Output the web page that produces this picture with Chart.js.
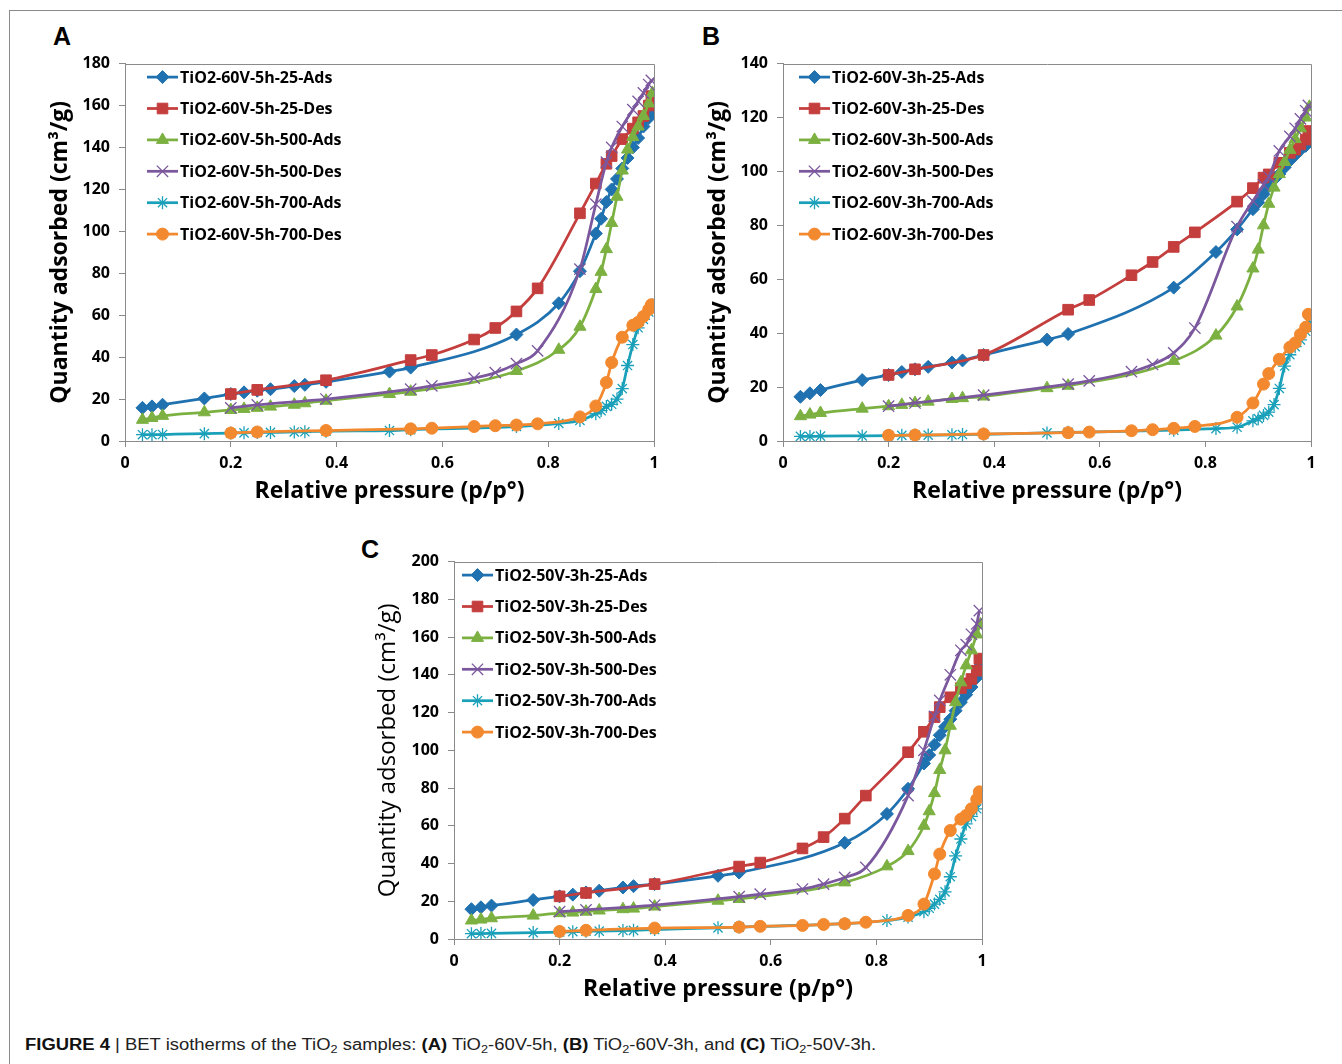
<!DOCTYPE html>
<html>
<head>
<meta charset="utf-8">
<script src="https://cdn.jsdelivr.net/npm/chart.js@4.4.1/dist/chart.umd.min.js"></script>
<style>
  body { margin: 0; width: 1342px; height: 1064px; background: #fff; position: relative; overflow: hidden; }
  .frame { position: absolute; left: 9px; top: 10px; width: 1340px; height: 1060px; border-left: 1px solid #8a8a8a; border-top: 1px solid #8a8a8a; }
  canvas { position: absolute; }
  .letter { position: absolute; font: bold 25px 'Liberation Sans', Arial, sans-serif; color: #000; line-height: 1; }
  #caption { position: absolute; left: 25px; top: 1036px; white-space: nowrap; font: 16px 'Liberation Sans', Arial, sans-serif; color: #222; transform-origin: left top; }
  #caption b { font-weight: bold; color: #111; }
  #caption sub { font-size: 11px; vertical-align: -3px; line-height: 0; }
</style>
</head>
<body>
<div class="frame"></div>
<div class="letter" style="left:53px;top:24px">A</div>
<div class="letter" style="left:702px;top:24px">B</div>
<div class="letter" style="left:361px;top:537px">C</div>
<canvas id="chartA" width="640" height="470" style="left:40px;top:45px"></canvas>
<canvas id="chartB" width="640" height="470" style="left:698px;top:45px"></canvas>
<canvas id="chartC" width="640" height="470" style="left:369px;top:543px"></canvas>
<div id="caption"><b>FIGURE 4</b> | BET isotherms of the TiO<sub>2</sub> samples: <b>(A)</b> TiO<sub>2</sub>-60V-5h, <b>(B)</b> TiO<sub>2</sub>-60V-3h, and <b>(C)</b> TiO<sub>2</sub>-50V-3h.</div>

<script>
// relative pressure points (adsorption and desorption branches)
const pAds = [0.033, 0.051, 0.071, 0.15, 0.2, 0.225, 0.25, 0.275, 0.32, 0.34, 0.38, 0.5, 0.54, 0.74, 0.82, 0.86, 0.89, 0.90, 0.91, 0.92, 0.93, 0.94, 0.95, 0.96, 0.97, 0.98, 0.99, 0.997];
const pDes = [0.2, 0.25, 0.38, 0.54, 0.58, 0.66, 0.70, 0.74, 0.78, 0.86, 0.89, 0.91, 0.92, 0.94, 0.96, 0.97, 0.98, 0.99, 0.995];

const seriesSuffix = ['25-Ads', '25-Des', '500-Ads', '500-Des', '700-Ads', '700-Des'];

// Panel A : TiO2-60V-5h
const a25Ads = [15.8, 16.5, 17.3, 20.3, 22.4, 23.2, 24, 24.7, 26.2, 26.8, 28.2, 33.1, 35, 50.8, 65.7, 81, 99, 106, 114, 120, 125, 130, 135, 140, 144.5, 150, 154, 157];
const a25Des = [22.4, 24.4, 29, 38.6, 41, 48.4, 53.9, 61.8, 72.8, 108.6, 122.8, 132.2, 135.9, 144, 149, 152, 155, 160, 164.5];
const a500Ads = [10.1, 11, 12, 13.7, 14.8, 15.3, 15.8, 16.4, 17.3, 18, 19.2, 22.4, 23.5, 33.4, 43.5, 54.5, 72.5, 80.7, 91.5, 104, 116.5, 129, 139, 145, 150, 155, 161, 166];
const a500Des = [15.8, 17.2, 20, 24.7, 26.3, 30, 32.6, 36.9, 43, 82, 113, 133, 140, 150, 158, 162, 166, 170, 172];
const a700Ads = [3.0, 3.0, 3.1, 3.5, 3.8, 3.9, 4.1, 4.1, 4.3, 4.4, 4.7, 5.0, 5.4, 6.9, 8.4, 9.8, 13, 14.5, 16.5, 17.5, 20, 25, 36, 46, 54, 58, 61.5, 65];
const a700Des = [3.8, 4.3, 5, 5.8, 6.1, 6.9, 7.3, 7.6, 8.2, 11.5, 16.7, 27.9, 37.4, 49.5, 55.2, 56.6, 59.4, 62.7, 65];

// Panel B : TiO2-60V-3h
const b25Ads = [16.4, 17.7, 18.9, 22.6, 24.5, 25.6, 26.6, 27.5, 29.1, 29.9, 31.9, 37.6, 39.7, 56.9, 70.1, 78.5, 86, 88.5, 91.5, 94.5, 97, 99, 101.5, 104, 106, 108, 109.5, 111];
const b25Des = [24.5, 26.6, 31.9, 48.7, 52.3, 61.5, 66.4, 72, 77.4, 88.8, 93.8, 97.7, 98.9, 103.2, 106.9, 108.1, 110, 111.8, 115];
const b500Ads = [9.2, 9.8, 10.4, 12, 12.9, 13.4, 14.1, 14.6, 15.6, 15.9, 16.5, 19.6, 20.5, 29.7, 39.1, 49.9, 64, 71, 80, 88, 94, 99, 103.5, 108, 112, 116, 120, 124];
const b500Des = [12.9, 14.1, 17, 21.1, 22.3, 25.7, 28.4, 32.7, 41.9, 79.5, 89, 95, 98, 107.6, 113, 116, 119.5, 122.5, 124.5];
const b700Ads = [1.7, 1.7, 1.8, 1.9, 2.0, 2.1, 2.2, 2.2, 2.3, 2.4, 2.5, 3.0, 3.2, 4.0, 4.6, 5.1, 7.5, 8.3, 9.5, 10.7, 13.5, 19.5, 27.8, 32, 35, 37.5, 40.7, 44];
const b700Des = [2.1, 2.2, 2.6, 3.1, 3.3, 3.8, 4.2, 4.7, 5.4, 8.8, 14.1, 21.1, 25, 30.3, 34.8, 36.4, 39.5, 42.2, 47];

// Panel C : TiO2-50V-3h
const c25Ads = [15.8, 16.8, 17.7, 20.7, 22.6, 23.5, 24.7, 25.6, 27.3, 28, 29.1, 33.5, 35.2, 51, 66.3, 79.6, 93, 97.5, 103, 108, 112.5, 116.5, 121, 125.5, 129.5, 133.5, 138.5, 145];
const c25Des = [22.6, 24.4, 29.1, 38.4, 40.5, 48, 54, 63.8, 76, 99, 109.8, 117.6, 122.9, 128.1, 133, 135.5, 137.8, 142.2, 148.6];
const c500Ads = [9.8, 10.3, 11, 12.4, 13.7, 14, 14.5, 15.1, 15.8, 16.1, 17.2, 20.3, 21.2, 30, 38.5, 46.6, 60, 67.7, 77.3, 89.6, 100, 113, 125.5, 136, 145, 153, 161.4, 166.7];
const c500Des = [14.5, 15.4, 18, 22.4, 23.8, 26.5, 29.1, 32.6, 37.9, 76, 100, 118, 126.4, 140, 153, 156, 161.5, 167, 174];
const c700Ads = [2.8, 2.9, 3.0, 3.4, 3.7, 3.9, 4.1, 4.2, 4.5, 4.6, 5.0, 5.9, 6.3, 8.1, 9.8, 11.6, 14.5, 16.3, 18.5, 21, 25, 33, 44, 53, 61, 65, 69, 76];
const c700Des = [4, 4.6, 5.8, 6.3, 6.7, 7.2, 7.7, 8.1, 8.9, 12.5, 18.5, 34.5, 45, 57.5, 63.5, 65.5, 69, 74, 78];

const colors = ['#1f71b0', '#c43e3d', '#7cb142', '#7b589e', '#1aa0b9', '#f3892f'];
const markers = ['rectRot', 'rect', 'triangle', 'crossRot', 'star', 'circle'];
const markerSize = [6.5, 7.5, 7, 8, 6.5, 6];

const axisGray = '#8a8a8a';
const fontFamily = '"Open Sans", "Noto Sans", sans-serif';

// top + right border of the plot box
const boxPlugin = {
    id: 'plotBox',
    afterDraw(chart) {
        const { ctx, chartArea } = chart;
        ctx.save();
        ctx.strokeStyle = axisGray;
        ctx.lineWidth = 1;
        ctx.beginPath();
        ctx.moveTo(Math.round(chartArea.left) + 0.5, Math.round(chartArea.top) + 0.5);
        ctx.lineTo(Math.round(chartArea.right) + 0.5, Math.round(chartArea.top) + 0.5);
        ctx.lineTo(Math.round(chartArea.right) + 0.5, Math.round(chartArea.bottom) + 0.5);
        ctx.stroke();
        ctx.restore();
    }
};

// Excel-style legend: line with marker, then label
const legendPlugin = {
    id: 'isoLegend',
    afterDraw(chart, args, opts) {
        const { ctx, chartArea } = chart;
        ctx.save();
        chart.data.datasets.forEach((ds, i) => {
            const y = chartArea.top + 13.5 + i * 31.4;
            const x0 = chartArea.left + opts.offset;
            ctx.strokeStyle = ds.borderColor;
            ctx.fillStyle = ds.backgroundColor;
            ctx.lineWidth = 2.75;
            ctx.beginPath();
            ctx.moveTo(x0, y);
            ctx.lineTo(x0 + 31, y);
            ctx.stroke();
            ctx.lineWidth = ds.pointBorderWidth;
            Chart.helpers.drawPoint(ctx, {
                pointStyle: ds.pointStyle,
                radius: ds.pointRadius,
                borderWidth: ds.pointBorderWidth,
                rotation: 0
            }, x0 + 15.5, y);
            ctx.fillStyle = '#000';
            ctx.font = 'bold 16px ' + fontFamily;
            ctx.textBaseline = 'middle';
            ctx.fillText(ds.label, x0 + 33, y + 1);
        });
        ctx.restore();
    }
};

function makeDatasets(prefix, values) {
    return values.map((vals, i) => {
        const xs = i % 2 === 0 ? pAds : pDes;
        const thin = markers[i] === 'crossRot' || markers[i] === 'star';
        return {
            label: prefix + seriesSuffix[i],
            data: xs.map((x, k) => ({ x: x, y: vals[k] })),
            borderColor: colors[i],
            backgroundColor: colors[i],
            borderWidth: 2.75,
            pointStyle: markers[i],
            pointRadius: markerSize[i],
            pointBorderWidth: thin ? 1.3 : 1,
            pointBackgroundColor: colors[i],
            pointBorderColor: colors[i],
            cubicInterpolationMode: 'monotone',
            fill: false,
            order: 5 - i
        };
    });
}

function makeChart(canvasId, prefix, values, yMax, padRight, legendOffset, yTitle) {
    const tickFont = { family: fontFamily, size: 16, weight: 'bold' };
    return new Chart(document.getElementById(canvasId), {
        type: 'line',
        data: { datasets: makeDatasets(prefix, values) },
        options: {
            responsive: false,
            animation: false,
            events: [],
            layout: { padding: { top: 15, right: padRight, bottom: 0, left: 0 } },
            plugins: {
                legend: { display: false },
                tooltip: { enabled: false },
                isoLegend: { offset: legendOffset }
            },
            scales: {
                x: {
                    type: 'linear',
                    min: 0,
                    max: 1,
                    afterFit: (scale) => { scale.height = 74; },
                    ticks: {
                        stepSize: 0.2,
                        color: '#000',
                        font: tickFont,
                        padding: 7,
                        maxRotation: 0,
                        callback: (v) => String(Number(v.toFixed(1)))
                    },
                    grid: { drawOnChartArea: false, drawTicks: true, tickLength: 6, color: axisGray },
                    border: { color: axisGray, width: 1 },
                    title: {
                        display: true,
                        text: 'Relative pressure (p/p°)',
                        color: '#000',
                        font: { family: fontFamily, size: 23, weight: 'bold' },
                        padding: { top: 0, bottom: 10 }
                    }
                },
                y: {
                    min: 0,
                    max: yMax,
                    afterFit: (scale) => { scale.width = 85; },
                    ticks: {
                        stepSize: 20,
                        color: '#000',
                        font: tickFont,
                        padding: 9
                    },
                    grid: { drawOnChartArea: false, drawTicks: true, tickLength: 6, color: axisGray },
                    border: { color: axisGray, width: 1 },
                    title: {
                        display: true,
                        text: 'Quantity adsorbed (cm³/g)',
                        color: '#000',
                        font: { family: fontFamily, size: yTitle.size, weight: yTitle.weight },
                        padding: { top: yTitle.pad, bottom: 0 }
                    }
                }
            }
        },
        plugins: [boxPlugin, legendPlugin]
    });
}

makeChart('chartA', 'TiO2-60V-5h-', [a25Ads, a25Des, a500Ads, a500Des, a700Ads, a700Des], 180, 26, 22, { size: 23, weight: 'bold', pad: 7 });
makeChart('chartB', 'TiO2-60V-3h-', [b25Ads, b25Des, b500Ads, b500Des, b700Ads, b700Des], 140, 27, 16, { size: 23, weight: 'bold', pad: 7 });
makeChart('chartC', 'TiO2-50V-3h-', [c25Ads, c25Des, c500Ads, c500Des, c700Ads, c700Des], 200, 27, 8, { size: 24, weight: 'normal', pad: 5 });

// squeeze the caption to the width it has in the figure
const caption = document.getElementById('caption');
const capWidth = caption.getBoundingClientRect().width;
caption.style.transform = 'scaleX(' + (851 / capWidth) + ')';
</script>
</body>
</html>
